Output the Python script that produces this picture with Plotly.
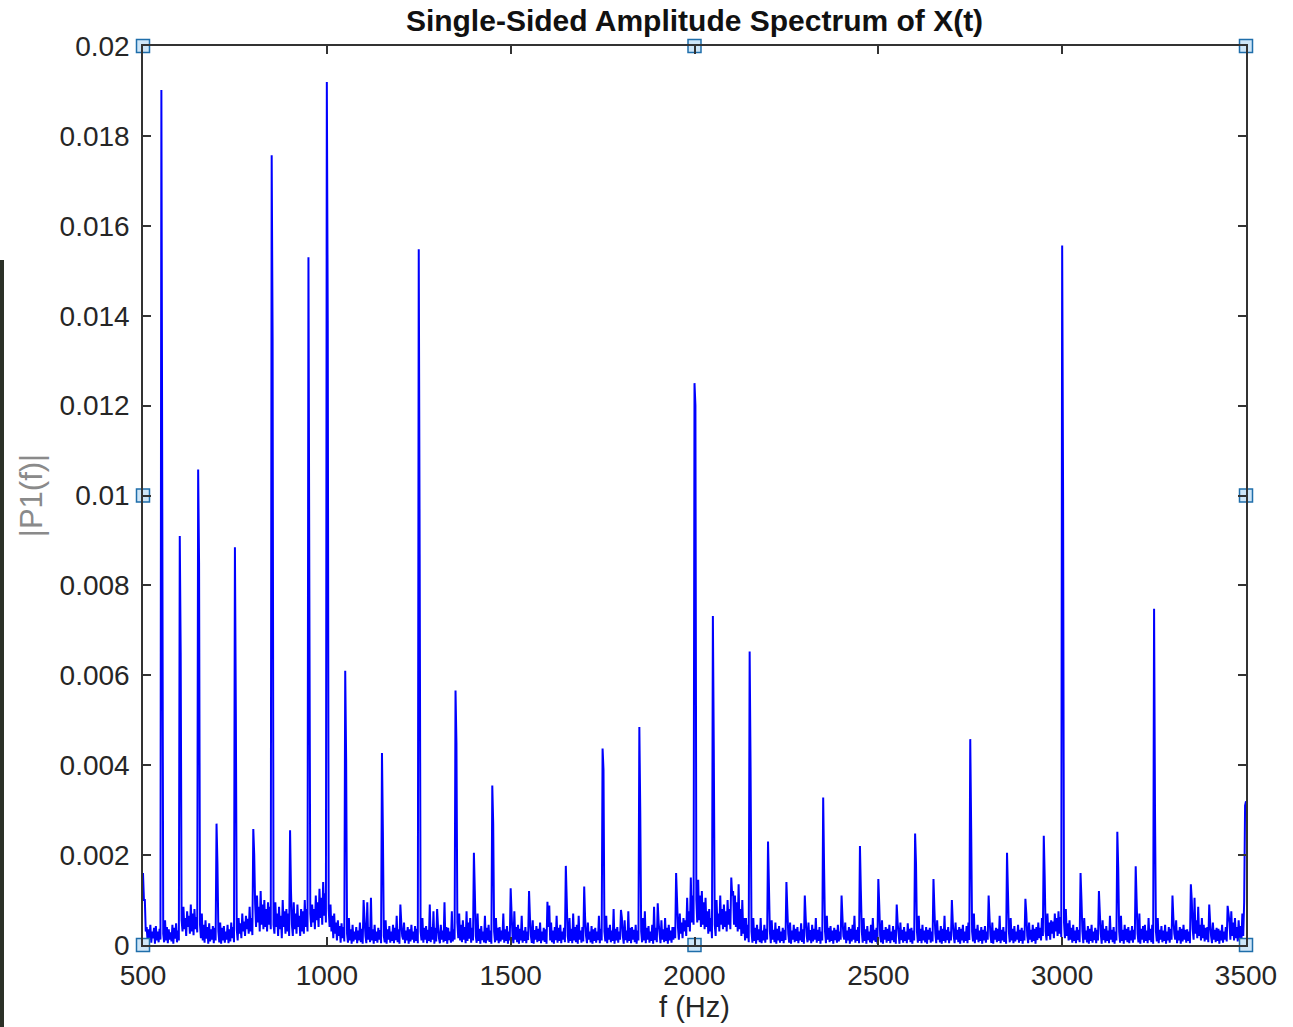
import plotly.graph_objects as go

# ---------------- data ----------------
FREQ_START = 500      # Hz, first sample
FREQ_STEP = 2.5       # Hz between samples (tops and bottoms of the noise strokes alternate)
UNIT = 1e-5           # all values below are stored in units of 1e-5

# noise floor: tops of the strokes, one row per 50 Hz (every 5 Hz), units of 1e-5
noise_top = [
    [160, 100, 40, 35, 45, 30, 38, 42, 30, 36],       # 500
    [30, 25, 55, 40, 35, 28, 45, 38, 48, 32],         # 550
    [40, 55, 85, 60, 75, 65, 90, 70, 80, 62],         # 600
    [60, 45, 70, 45, 55, 40, 48, 35, 42, 38],         # 650
    [40, 30, 50, 38, 42, 30, 45, 35, 50, 40],         # 700
    [50, 35, 60, 48, 70, 52, 65, 58, 85, 60],         # 750
    [60, 90, 110, 85, 120, 90, 100, 80, 95, 85],      # 800
    [60, 45, 95, 70, 85, 65, 100, 75, 80, 70],        # 850
    [60, 45, 95, 70, 90, 65, 80, 75, 100, 80],        # 900
    [50, 70, 90, 80, 110, 95, 125, 105, 140, 115],    # 950
    [100, 80, 90, 65, 70, 50, 55, 42, 48, 40],        # 1000
    [40, 25, 60, 35, 45, 30, 40, 32, 50, 36],         # 1050
    [30, 20, 95, 40, 105, 35, 45, 30, 38, 33],        # 1100
    [30, 20, 55, 35, 42, 30, 45, 38, 65, 35],         # 1150
    [30, 20, 50, 32, 40, 35, 45, 30, 42, 36],         # 1200
    [40, 30, 60, 38, 42, 34, 90, 40, 75, 38],         # 1250
    [30, 15, 45, 32, 95, 40, 38, 30, 75, 35],         # 1300
    [40, 50, 70, 45, 55, 40, 75, 50, 60, 38],         # 1350
    [30, 20, 70, 36, 42, 30, 65, 38, 45, 32],         # 1400
    [40, 30, 60, 38, 40, 32, 70, 35, 42, 30],         # 1450
    [30, 20, 75, 40, 45, 36, 65, 32, 40, 30],         # 1500
    [30, 20, 55, 33, 42, 36, 50, 30, 38, 35],         # 1550
    [96, 88, 50, 32, 40, 65, 38, 45, 30, 38],         # 1600
    [30, 20, 60, 36, 70, 40, 45, 65, 32, 40],         # 1650
    [30, 20, 50, 30, 42, 35, 38, 30, 65, 36],         # 1700
    [40, 30, 65, 38, 45, 32, 80, 36, 40, 30],         # 1750
    [30, 20, 55, 32, 75, 38, 40, 34, 45, 32],         # 1800
    [40, 30, 60, 75, 38, 42, 30, 45, 85, 38],         # 1850
    [40, 25, 55, 35, 60, 38, 45, 32, 40, 40],         # 1900
    [50, 40, 70, 50, 60, 55, 105, 75, 150, 110],      # 1950
    [120, 100, 145, 110, 120, 95, 105, 75, 80, 60],   # 2000
    [60, 45, 100, 70, 110, 80, 90, 75, 100, 80],      # 2050
    [165, 120, 110, 95, 135, 80, 100, 60, 60, 45],    # 2100
    [40, 30, 60, 38, 45, 35, 60, 32, 45, 36],         # 2150
    [40, 30, 55, 34, 50, 36, 42, 30, 38, 34],         # 2200
    [35, 25, 50, 32, 45, 36, 40, 30, 48, 35],         # 2250
    [35, 20, 50, 33, 45, 36, 60, 34, 40, 30],         # 2300
    [40, 30, 65, 38, 42, 32, 38, 34, 45, 30],         # 2350
    [30, 20, 50, 32, 40, 36, 45, 65, 34, 40],         # 2400
    [40, 30, 60, 35, 42, 30, 45, 60, 34, 38],         # 2450
    [35, 20, 55, 33, 40, 36, 45, 30, 42, 34],         # 2500
    [30, 25, 50, 34, 40, 30, 48, 36, 38, 32],         # 2550
    [40, 30, 65, 36, 45, 32, 40, 34, 38, 30],         # 2600
    [35, 25, 55, 32, 42, 36, 65, 34, 40, 30],         # 2650
    [30, 20, 50, 34, 40, 36, 45, 30, 42, 50],         # 2700
    [40, 30, 70, 36, 45, 32, 40, 34, 42, 30],         # 2750
    [30, 20, 50, 32, 38, 36, 65, 34, 40, 30],         # 2800
    [40, 30, 60, 36, 42, 30, 45, 34, 38, 32],         # 2850
    [35, 20, 50, 34, 45, 36, 40, 50, 38, 60],         # 2900
    [40, 30, 70, 50, 55, 52, 70, 60, 75, 62],         # 2950
    [70, 50, 80, 48, 55, 38, 45, 32, 40, 34],         # 3000
    [40, 30, 60, 32, 42, 36, 45, 30, 38, 34],         # 3050
    [40, 25, 55, 36, 42, 32, 65, 34, 40, 30],         # 3100
    [40, 30, 65, 34, 45, 36, 40, 32, 42, 34],         # 3150
    [35, 25, 70, 36, 42, 45, 32, 60, 36, 45],         # 3200
    [40, 30, 60, 34, 42, 32, 45, 30, 40, 36],         # 3250
    [30, 25, 55, 32, 40, 36, 45, 34, 35, 30],         # 3300
    [50, 35, 105, 55, 85, 45, 60, 45, 38, 40],        # 3350
    [30, 20, 50, 34, 38, 36, 32, 45, 30, 40],         # 3400
    [70, 50, 75, 50, 60, 40, 55, 42, 70, 95],         # 3450
    [320],                                            # 3500
]

# noise floor: bottoms of the strokes (sampled between the tops), units of 1e-5
noise_bottom = [
    [100, 30, 8, 12, 5, 15, 3, 10, 6, 12],            # 500
    [15, 6, 10, 4, 12, 8, 3, 14, 6, 10],              # 550
    [25, 30, 35, 20, 40, 25, 30, 22, 35, 28],         # 600
    [20, 15, 10, 5, 14, 3, 8, 12, 4, 10],             # 650
    [12, 6, 3, 10, 5, 12, 4, 8, 15, 6],               # 700
    [20, 10, 25, 15, 30, 20, 35, 25, 30, 22],         # 750
    [35, 40, 50, 30, 45, 35, 40, 30, 45, 35],         # 800
    [30, 25, 40, 20, 35, 15, 40, 25, 30, 20],         # 850
    [30, 20, 35, 25, 40, 20, 30, 25, 40, 30],         # 900
    [30, 40, 50, 35, 55, 40, 60, 45, 65, 50],         # 950
    [50, 40, 30, 15, 25, 10, 20, 5, 15, 8],           # 1000
    [12, 5, 10, 3, 8, 12, 4, 10, 6, 3],               # 1050
    [8, 4, 12, 6, 10, 3, 9, 5, 12, 4],                # 1100
    [10, 6, 3, 12, 5, 9, 4, 11, 6, 3],                # 1150
    [8, 12, 4, 10, 3, 8, 12, 5, 9, 4],                # 1200
    [15, 10, 5, 12, 4, 9, 6, 12, 3, 8],               # 1250
    [10, 4, 12, 6, 9, 3, 11, 5, 8, 12],               # 1300
    [20, 15, 10, 6, 12, 4, 9, 14, 5, 10],             # 1350
    [12, 5, 9, 3, 11, 6, 4, 10, 7, 3],                # 1400
    [12, 6, 10, 4, 8, 12, 5, 9, 3, 10],               # 1450
    [8, 4, 12, 6, 3, 10, 5, 9, 4, 11],                # 1500
    [10, 5, 3, 12, 6, 9, 4, 10, 7, 3],                # 1550
    [20, 10, 6, 3, 11, 5, 9, 4, 12, 6],               # 1600
    [12, 5, 9, 4, 10, 6, 3, 12, 5, 8],                # 1650
    [10, 4, 12, 6, 3, 9, 5, 11, 4, 10],               # 1700
    [15, 8, 4, 12, 6, 9, 3, 10, 5, 12],               # 1750
    [8, 3, 11, 5, 9, 4, 12, 6, 3, 10],                # 1800
    [15, 6, 10, 4, 12, 5, 9, 3, 11, 6],               # 1850
    [10, 4, 12, 6, 9, 3, 10, 5, 12, 15],              # 1900
    [20, 12, 25, 15, 30, 20, 40, 30, 50, 45],         # 1950
    [60, 50, 55, 40, 45, 35, 40, 25, 30, 15],         # 2000
    [25, 20, 40, 30, 45, 35, 40, 30, 45, 35],         # 2050
    [50, 45, 40, 30, 35, 20, 25, 10, 15, 6],          # 2100
    [12, 5, 9, 3, 11, 6, 4, 10, 5, 12],               # 2150
    [8, 4, 12, 6, 3, 10, 5, 9, 4, 11],                # 2200
    [10, 5, 3, 12, 6, 9, 4, 10, 7, 3],                # 2250
    [12, 6, 10, 4, 8, 12, 5, 9, 3, 10],               # 2300
    [10, 4, 12, 6, 9, 3, 11, 5, 8, 12],               # 2350
    [8, 12, 4, 10, 3, 8, 12, 5, 9, 4],                # 2400
    [12, 5, 9, 3, 11, 6, 4, 10, 7, 3],                # 2450
    [10, 6, 3, 12, 5, 9, 4, 11, 6, 3],                # 2500
    [8, 3, 11, 5, 9, 4, 12, 6, 3, 10],                # 2550
    [12, 5, 9, 4, 10, 6, 3, 12, 5, 8],                # 2600
    [10, 4, 12, 6, 3, 9, 5, 11, 4, 10],               # 2650
    [8, 4, 12, 6, 3, 10, 5, 9, 4, 11],                # 2700
    [15, 8, 4, 12, 6, 9, 3, 10, 5, 12],               # 2750
    [10, 5, 3, 12, 6, 9, 4, 10, 7, 3],                # 2800
    [12, 6, 10, 4, 8, 12, 5, 9, 3, 10],               # 2850
    [10, 4, 12, 6, 9, 3, 11, 15, 10, 20],             # 2900
    [15, 10, 20, 12, 25, 15, 30, 20, 25, 18],         # 2950
    [25, 15, 20, 10, 12, 5, 9, 4, 11, 6],             # 3000
    [10, 4, 12, 6, 3, 9, 5, 11, 4, 10],               # 3050
    [8, 3, 11, 5, 9, 4, 12, 6, 3, 10],                # 3100
    [12, 5, 9, 3, 11, 6, 4, 10, 5, 12],               # 3150
    [10, 6, 3, 12, 5, 9, 4, 11, 6, 3],                # 3200
    [15, 8, 4, 12, 6, 9, 3, 10, 5, 12],               # 3250
    [8, 12, 4, 10, 3, 8, 12, 5, 9, 4],                # 3300
    [20, 12, 25, 15, 20, 10, 15, 8, 12, 6],           # 3350
    [10, 4, 12, 6, 9, 3, 10, 5, 12, 8],               # 3400
    [15, 12, 20, 10, 15, 8, 12, 6, 20, 30],           # 3450
    [],                                               # 3500
]

# spectral lines: frequency (Hz), top value and neighbouring bin value (units 1e-5)
peak_freqs = [550, 600, 650, 700, 750, 800, 850, 900, 950, 1000,
              1050, 1100, 1150, 1200, 1250, 1300, 1350, 1400, 1450, 1500,
              1550, 1600, 1650, 1700, 1750, 1800, 1850, 1900, 1950, 2000,
              2050, 2100, 2150, 2200, 2250, 2300, 2350, 2400, 2450, 2500,
              2550, 2600, 2650, 2700, 2750, 2800, 2850, 2900, 2950, 3000,
              3050, 3100, 3150, 3200, 3250, 3300, 3350, 3400, 3450, 3500]
peak_vals = [1902, 910, 1058, 270, 885, 258, 1757, 255, 1530, 1920,
             610, 100, 427, 90, 1548, 80, 566, 205, 355, 126,
             120, 96, 176, 130, 437, 78, 485, 93, 160, 1250,
             732, 150, 653, 230, 140, 110, 328, 110, 220, 147,
             90, 248, 147, 100, 458, 110, 205, 103, 243, 1556,
             160, 120, 252, 175, 748, 110, 135, 90, 87, 320]
shoulder_vals = [961, 650, 850, 180, 515, 200, 1348, 120, 778, 1388,
                 415, 60, 250, 50, 870, 40, 450, 120, 270, 70,
                 60, 40, 100, 60, 390, 60, 294, 50, 100, 1200,
                 433, 110, 395, 130, 80, 60, 170, 60, 120, 90,
                 50, 180, 80, 50, 260, 60, 120, 70, 150, 992,
                 100, 70, 170, 100, 300, 60, 100, 50, 70, 310]

x_ticks = [500, 1000, 1500, 2000, 2500, 3000, 3500]
y_ticks = [0, 0.002, 0.004, 0.006, 0.008, 0.01, 0.012, 0.014, 0.016, 0.018, 0.02]
y_tick_text = ["0", "0.002", "0.004", "0.006", "0.008", "0.01",
               "0.012", "0.014", "0.016", "0.018", "0.02"]
x_range = [500, 3500]
y_range = [0, 0.02]

# ---------------- build series ----------------
amp = []
for tops, bottoms in zip(noise_top, noise_bottom):
    for j, t in enumerate(tops):
        amp.append(t * UNIT)
        if j < len(bottoms):
            amp.append(bottoms[j] * UNIT)
freq = [FREQ_START + FREQ_STEP * i for i in range(len(amp))]
for f, pk, sh in zip(peak_freqs, peak_vals, shoulder_vals):
    i = int(round((f - FREQ_START) / FREQ_STEP))
    amp[i] = pk * UNIT
    j = i + 1 if i + 1 < len(amp) else i - 1
    amp[j] = sh * UNIT

# selection handles (corners and mid-points of the axes box)
x_mid = (x_range[0] + x_range[1]) / 2
y_mid = (y_range[0] + y_range[1]) / 2
hx = [x_range[0], x_mid, x_range[1], x_range[0], x_range[1], x_range[0], x_mid, x_range[1]]
hy = [y_range[1], y_range[1], y_range[1], y_mid, y_mid, y_range[0], y_range[0], y_range[0]]

FONT = "Liberation Sans, Arial, Helvetica, sans-serif"
AX = "#333333"
TXT = "#262626"

fig = go.Figure()
fig.add_trace(go.Scatter(x=freq, y=amp, mode="lines",
                         line=dict(color="#0000ff", width=2, simplify=False),
                         showlegend=False, hoverinfo="skip"))
fig.add_trace(go.Scatter(x=hx, y=hy, mode="markers", cliponaxis=False,
                         marker=dict(symbol="square", size=13, color="#cfe6f7",
                                     line=dict(color="#1f6eaa", width=1.5)),
                         showlegend=False, hoverinfo="skip"))

axis_common = dict(showgrid=False, zeroline=False, showline=True, linecolor=AX,
                   linewidth=1.5, mirror="ticks", ticks="inside", ticklen=8,
                   tickwidth=1.5, tickcolor=AX,
                   tickfont=dict(family=FONT, size=28, color=TXT))

fig.update_layout(
    width=1293, height=1027, autosize=False,
    margin=dict(l=143, r=47, t=46, b=82),
    paper_bgcolor="white", plot_bgcolor="white",
    title=dict(text="<b>Single-Sided Amplitude Spectrum of X(t)</b>",
               font=dict(family=FONT, size=30, color="#111111"),
               x=(143 + 1246) / 2 / 1293, xanchor="center",
               y=1 - 20 / 1027, yanchor="middle", yref="container"),
    xaxis=dict(range=x_range, tickvals=x_ticks, ticklabelstandoff=5,
               title=dict(text="f (Hz)", standoff=4,
                          font=dict(family=FONT, size=29, color=TXT)),
               **axis_common),
    yaxis=dict(range=y_range, tickvals=y_ticks, ticktext=y_tick_text,
               ticklabelstandoff=6,
               title=dict(text="|P1(f)|", standoff=8,
                          font=dict(family=FONT, size=31, color="#8a8a8a")),
               **axis_common),
    shapes=[dict(type="rect", xref="paper", yref="paper",
                 x0=-143 / 1103, x1=-139 / 1103, y0=-82 / 899, y1=(945 - 260) / 899,
                 fillcolor="#2b3127", line=dict(width=0), layer="below")],
)

fig.write_html("out.html", config={"displayModeBar": False})
